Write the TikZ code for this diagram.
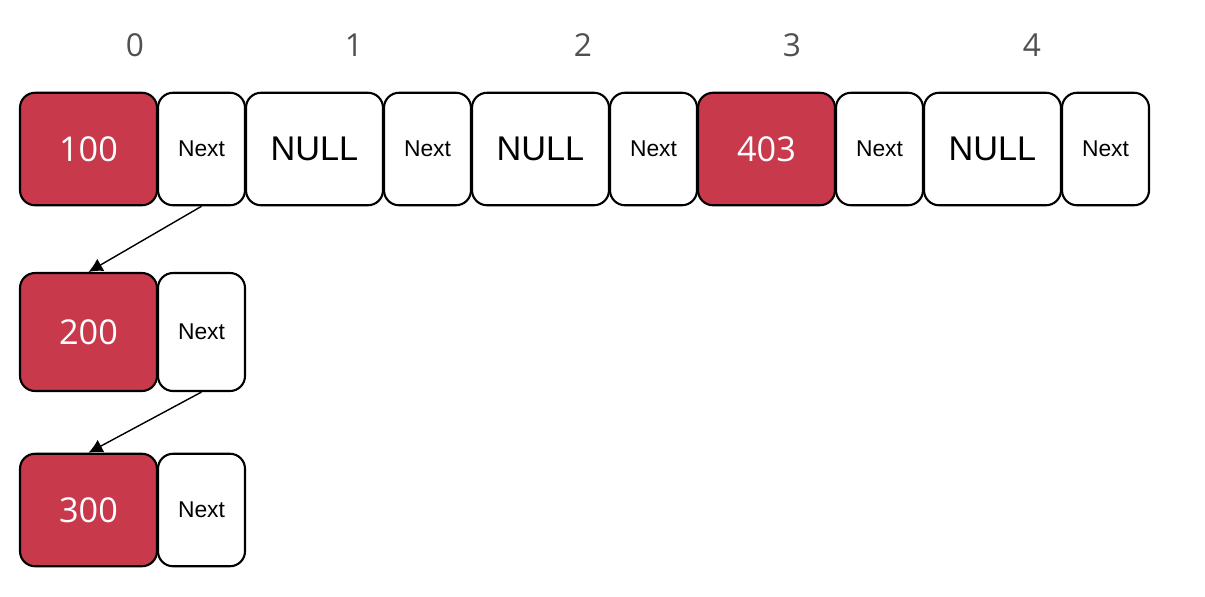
\documentclass[tikz,border=0pt]{standalone}
\usepackage{fontspec}
\setmainfont{Liberation Sans}
\newfontfamily\digitfont{Open Sans}
\usepackage{tikz}
\usetikzlibrary{arrows.meta}
\definecolor{cellred}{RGB}{200,57,75}
\definecolor{idxgray}{RGB}{80,80,80}

\begin{document}
\begin{tikzpicture}[x=0.02cm,y=-0.02cm,
  cell/.style={draw,line width=1.2pt,rounded corners=0.3cm,inner sep=0pt,minimum height=2.25cm},
  valbox/.style={cell,fill=cellred,text=white,minimum width=2.74cm,font=\digitfont\fontsize{19.5}{22}\selectfont},
  nullbox/.style={cell,fill=white,minimum width=2.74cm,font=\fontsize{19.5}{22}\selectfont},
  nextbox/.style={cell,fill=white,minimum width=1.74cm,font=\fontsize{13}{15}\selectfont},
  idx/.style={text=idxgray,font=\digitfont\fontsize{18}{20}\selectfont}]
\useasboundingbox (0,0) rectangle (1205,596);
				%% index labels above the table
				\foreach \i/\x in {0/135,1/354,2/583,3/792,4/1032}{
					\node[idx] (i\i) at (\x,45){\i};
					}
				%% top row: value cell and next cell for every slot
				\foreach \i/\t/\s in {0/100/valbox,1/NULL/nullbox,2/NULL/nullbox,3/403/valbox,4/NULL/nullbox}{
					\node[\s] (d\i) at (88.5+226*\i,149){\t};
					\node[nextbox] (n\i) at (201.5+226*\i,149){Next};
					}
				%% chained nodes under slot 0, placed by hand
				\node[valbox,minimum height=2.36cm] (v1) at (88.5,332){200};\node[nextbox,minimum height=2.36cm] (m1) at (201.5,332){Next};
				\node[valbox] (v2) at (88.5,510){300};\node[nextbox] (m2) at (201.5,510){Next};
				%% links
				\draw[line width=0.8pt,-{Latex[length=8pt,width=8pt]}] (n0.south)--(v1.north);
				\draw[line width=0.8pt,-{Latex[length=8pt,width=8pt]}] (m1.south)--(v2.north);
\end{tikzpicture}
\end{document}
